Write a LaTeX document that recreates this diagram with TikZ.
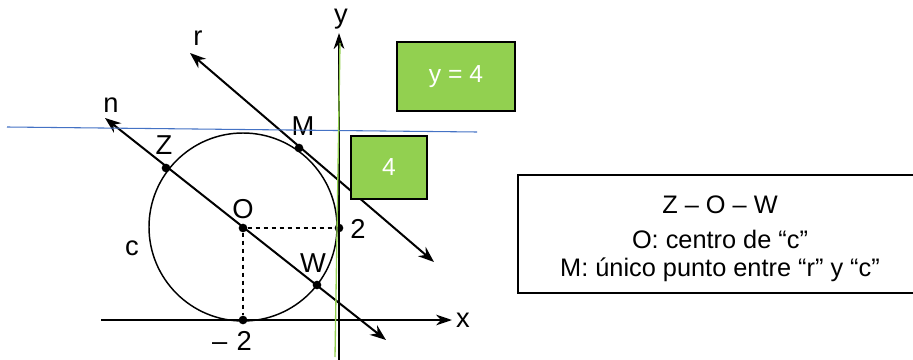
\documentclass[tikz,border=0pt]{standalone}
\usepackage{fontspec}
\setmainfont{Liberation Sans}
\usetikzlibrary{positioning,arrows.meta}
\definecolor{boxgreen}{HTML}{92D050}
\definecolor{lineblue}{HTML}{4472C4}
\newcommand{\infofont}{\fontsize{19}{21}\selectfont\setlength{\lineskiplimit}{-20pt}}

\begin{document}
\begin{tikzpicture}[x=0.75pt, y=-0.75pt,
		pt/.style={circle, fill=black, inner sep=0pt, minimum size=6.5pt},
		lbl/.style={font=\fontsize{20.5}{24}\selectfont, inner sep=1pt},
		ln/.style={line width=1.5pt, {Stealth[length=12pt,width=9pt]}-{Stealth[length=12pt,width=9pt]}},
		ax/.style={line width=1.5pt, -{Stealth[length=12pt,width=8pt]}},
		dsh/.style={dashed, line width=0.9pt},
		gbox/.style={draw=black, line width=1.5pt, fill=boxgreen, text=white,
				font=\fontsize{18.5}{22}\selectfont, inner sep=0pt},
		txtbox/.style={draw=black, line width=1pt, fill=white,
				minimum width=300pt, minimum height=88.5pt},
		txt/.style={align=center, inner sep=0pt, font=\infofont},
	]
	\useasboundingbox (0,0) rectangle (913,360);
	\coordinate (xs) at (101,320);
	\coordinate (xe) at (452,320);
	\coordinate (ys) at (339,360);
	\coordinate (ye) at (339,33);
	\draw[ax] (xs) -- (xe);
	\draw[ax] (ys) -- (ye);
	\node[lbl] (xl) at (463,320) {x};
	\node[lbl, inner sep=0pt] (yl) at (341,19) {y};
	\node[circle, draw, line width=1.1pt, minimum size=141pt, inner sep=0pt] (cc) at (243,227) {};
	\node[pt] (O)  at (243,228) {};
	\node[pt] (Z)  at (166,168) {};
	\node[pt] (W)  at (317,285) {};
	\node[pt] (M)  at (299,148) {};
	\node[pt] (T2) at (339,228) {};
	\node[pt] (Tm) at (243,320) {};
	\draw[dsh] (O) -- (T2);
	\draw[dsh] (O) -- (Tm);
	\coordinate (n1) at (105,118);
	\coordinate (n2) at (386,340);
	\coordinate (r1) at (190,53);
	\coordinate (r2) at (434,262);
	\draw[ln] (n1) -- (n2);
	\draw[ln] (r1) -- (r2);
	\node[lbl] (nl)  at (111,105) {n};
	\node[lbl] (rl)  at (198,38) {r};
	\node[lbl] (Zl)  at (164,145) {Z};
	\node[lbl] (Ml)  at (303,126) {M};
	\node[lbl] (Ol)  at (243,209) {O};
	\node[lbl] (Wl)  at (313,263) {W};
	\node[lbl] (cl)  at (132,248) {c};
	\node[lbl] (l2)  at (358,229) {2};
	\node[lbl] (lm2) at (232,341) {–\,\,2};
	\coordinate (b1) at (7,127);
	\coordinate (b2) at (477,132);
	\coordinate (g1) at (340,43);
	\coordinate (g2) at (335,357);
	\draw[lineblue, line width=0.8pt] (b1) -- (b2);
	\draw[boxgreen, line width=1pt] (g1) -- (g2);
	\node[gbox, minimum width=88.5pt, minimum height=51.75pt] (eq) at (456,76.5) {y = 4};
	\node[gbox, minimum width=57pt, minimum height=47.25pt] (four) at (389,167.5) {4};
	\node[txtbox] (info) at (718,234) {};
	\node[txt] (infotxt) at (720,239) {Z – O – W\\[5.25pt]
		O: centro de “c”\\
		M: único punto entre “r” y “c”};
\end{tikzpicture}
\end{document}
